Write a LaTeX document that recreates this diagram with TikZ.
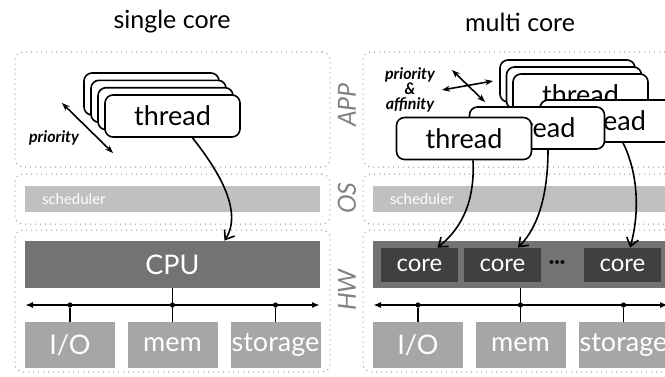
\documentclass[tikz,border=0pt]{standalone}
\usepackage{fontspec}
\setmainfont{Lato}
\usetikzlibrary{arrows.meta}

\definecolor{layergray}{RGB}{150,150,150}
\definecolor{schedgray}{RGB}{192,192,192}
\definecolor{devgray}{RGB}{166,166,166}
\definecolor{cpugray}{RGB}{115,115,115}
\definecolor{coregray}{RGB}{64,64,64}
\definecolor{labelgray}{RGB}{130,130,130}

\newcommand{\fs}[1]{\fontsize{#1}{#1}\selectfont}

\tikzset{
  layer/.style={draw=layergray, dotted, line width=0.5pt, rounded corners=4pt,
    minimum width=157.5pt, inner sep=0pt},
  sched/.style={fill=schedgray, text=white, font=\fs{7.5}, minimum height=13pt,
    text width=130.5pt, inner xsep=8.5pt, inner ysep=0pt, align=left},
  unit/.style={fill=cpugray, text=white, font=\fs{13.5}, minimum width=147.5pt,
    minimum height=23.5pt, inner sep=0pt},
  core/.style={fill=coregray, text=white, font=\fs{12}, minimum width=38.5pt,
    minimum height=17pt, inner sep=0pt},
  dev/.style={fill=devgray, text=white, font=\fs{13.5}, minimum width=45pt,
    minimum height=23pt, inner sep=0pt},
  thread/.style={draw, fill=white, line width=0.8pt, rounded corners=4pt,
    font=\fs{13.5}, minimum width=67.5pt, minimum height=21pt, inner sep=0pt},
  dot/.style={circle, fill, inner sep=0pt, minimum size=2.6pt},
  side/.style={rotate=90, text=labelgray, font=\fs{12.5}\itshape},
  title/.style={font=\fs{12.5}},
  hint/.style={font=\fontsize{8}{7.5}\selectfont\bfseries\itshape, align=center},
  bus/.style={{Latex[length=4pt]}-{Latex[length=4pt]}, line width=0.8pt},
  knob/.style={{Stealth[length=4pt]}-{Stealth[length=4pt]}, line width=0.8pt},
  map/.style={-{Straight Barb[length=4pt, width=6pt]}, line width=0.8pt}
}

\begin{document}
\begin{tikzpicture}[x=0.5pt, y=-0.5pt]
    \clip (0,0) rectangle (665,376);

    %% titles
    \node[title] (tSingle) at (172,22) {single core};
    \node[title] (tMulti) at (520,22) {multi core};

    %% ---------------- single core ----------------
    \node[layer, minimum height=57.5pt] (appL) at (172.5,109.5) {};
    \node[layer, minimum height=25pt] (osL) at (172.5,199) {};
    \node[layer, minimum height=71pt] (hwL) at (172.5,301) {};

    \node[sched] (schedL) at (172.5,199) {scheduler};
    \node[unit] (cpu) at (172.5,264.5) {CPU};

    %% bus
    \coordinate (busLw) at (25,305);
    \coordinate (busLe) at (320,305);
    \draw[bus] (busLw) -- (busLe);
    \node[dot] (dL1) at (70,305) {};
    \node[dot] (dL2) at (172.5,305) {};
    \node[dot] (dL3) at (275.5,305) {};

    \node[dev] (ioL) at (70,345) {I/O};
    \node[dev] (memL) at (172.5,345) {mem};
    \node[dev] (stoL) at (275.5,345) {storage};
    \draw[line width=0.8pt] (dL1) -- (ioL);
    \draw[line width=0.8pt] (cpu) -- (memL);
    \draw[line width=0.8pt] (dL3) -- (stoL);

    %% thread stack
    \node[thread] (thrL3) at (151.5,94) {};
    \node[thread] (thrL2) at (158.5,101.3) {};
    \node[thread] (thrL1) at (165.5,108.7) {};
    \node[thread] (thrL) at (172.5,116) {thread};

    \coordinate (prLa) at (62,103);
    \coordinate (prLb) at (113,153);
    \draw[knob] (prLa) -- (prLb);
    \node[hint] (prL) at (54,138) {priority};

    \draw[map] ([xshift=10pt]thrL.south) .. controls +(22,28) and +(20,-31) .. ([xshift=26pt]cpu.north);

    %% ---------------- multi core ----------------
    \node[layer, minimum height=57.5pt] (appR) at (520.5,109.5) {};
    \node[layer, minimum height=25pt] (osR) at (520.5,199) {};
    \node[layer, minimum height=71pt] (hwR) at (520.5,301) {};

    \node[side] (lApp) at (347,105) {APP};
    \node[side] (lOs) at (347,198) {OS};
    \node[side] (lHw) at (347,290) {HW};

    \node[sched] (schedR) at (520.5,199) {scheduler};
    \node[unit] (cores) at (520.5,264.5) {};
    \node[core] (core1) at (419.5,265) {core};
    \node[core] (core2) at (502.5,265) {core};
    \node[font=\fs{10}\bfseries, inner sep=0pt] (etc) at (557,265) {\textperiodcentered\textperiodcentered\textperiodcentered};
    \node[core] (core3) at (622.5,265) {core};

    %% bus
    \coordinate (busRw) at (373,305);
    \coordinate (busRe) at (668,305);
    \draw[bus] (busRw) -- (busRe);
    \node[dot] (dR1) at (418,305) {};
    \node[dot] (dR2) at (520.5,305) {};
    \node[dot] (dR3) at (623.5,305) {};

    \node[dev] (ioR) at (418,345) {I/O};
    \node[dev] (memR) at (520.5,345) {mem};
    \node[dev] (stoR) at (623.5,345) {storage};
    \draw[line width=0.8pt] (dR1) -- (ioR);
    \draw[line width=0.8pt] (cores) -- (memR);
    \draw[line width=0.8pt] (dR3) -- (stoR);

    %% threads
    \node[thread] (thrS3) at (567.5,81) {};
    \node[thread] (thrS2) at (574,88) {};
    \node[thread] (thrS1) at (580.5,95) {thread};
    \node[thread] (thrC) at (607.5,121) {thread};
    \node[thread] (thrB) at (537,128) {thread};
    \node[thread] (thrA) at (464,138.5) {thread};

    \coordinate (prRa) at (452,70);
    \coordinate (prRb) at (485,102);
    \coordinate (afRa) at (442,90);
    \coordinate (afRb) at (493,81);
    \draw[knob] (prRa) -- (prRb);
    \draw[knob] (afRa) -- (afRb);
    \node[hint] (prR) at (410,90) {priority\\\&\\affinity};

    \draw[map] ([xshift=4.5pt]thrA.south) .. controls +(2,40) and +(25,-20) .. ([xshift=9pt]core1.north);
    \draw[map] ([xshift=5.5pt]thrB.south) .. controls +(0,40) and +(22,-22) .. ([xshift=7.75pt]core2.north);
    \draw[map] ([xshift=7.75pt]thrC.south) .. controls +(15,30) and +(10,-35) .. ([xshift=3.75pt]core3.north);
\end{tikzpicture}
\end{document}
